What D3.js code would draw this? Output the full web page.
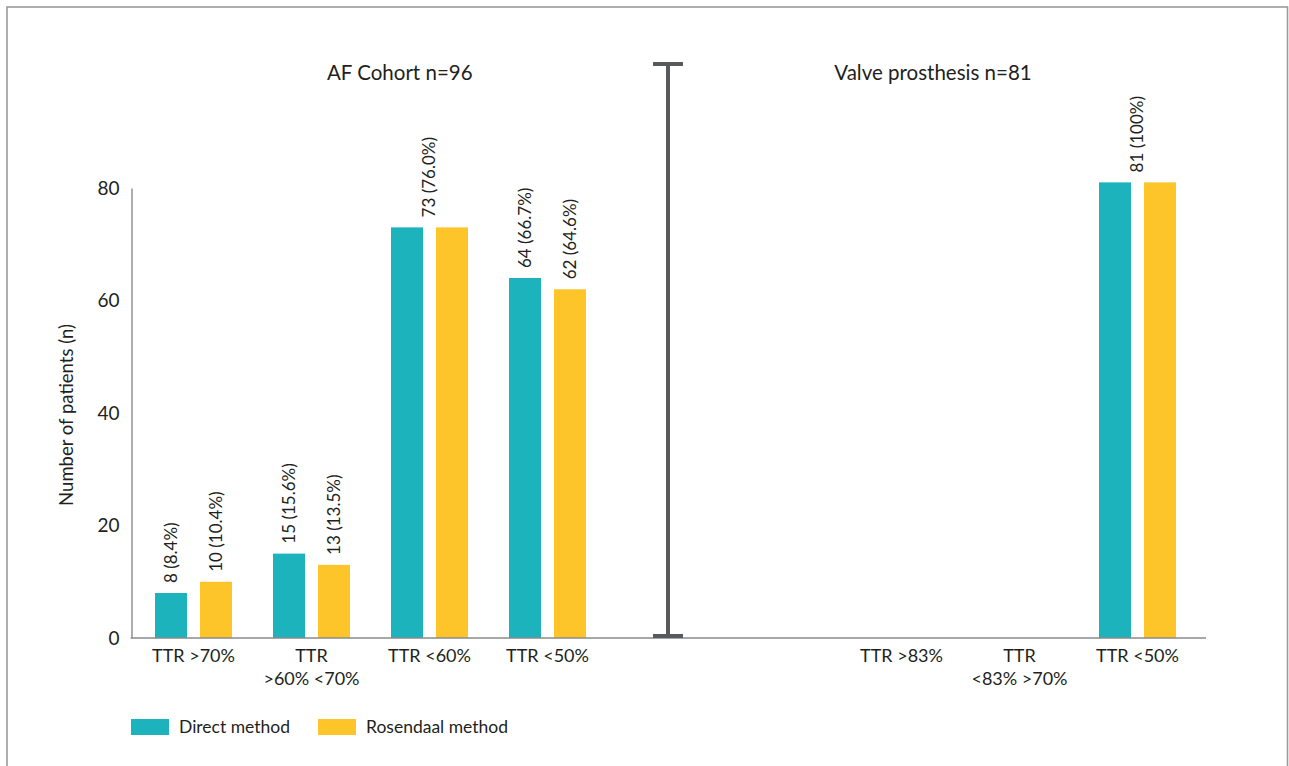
<!DOCTYPE html>
<html>
<head>
<meta charset="utf-8">
<script src="https://cdn.jsdelivr.net/npm/d3@7"></script>
<style>
  html, body { margin: 0; padding: 0; background: #fff; }
  svg { display: block; }
  text { font-family: Lato, "Noto Sans", sans-serif; fill: #231f20; }
</style>
</head>
<body>
<svg id="chart" width="1289" height="766"></svg>
<script>
// ---- data ----
const afCategories = [["TTR >70%"], ["TTR", ">60% <70%"], ["TTR <60%"], ["TTR <50%"]];
const afDirect = [8, 15, 73, 64];
const afRosendaal = [10, 13, 73, 62];
const afDirectPct = ["8.4%", "15.6%", "76.0%", "66.7%"];
const afRosendaalPct = ["10.4%", "13.5%", "76.0%", "64.6%"];

const valveCategories = [["TTR >83%"], ["TTR", "<83% >70%"], ["TTR <50%"]];
const valveDirect = [null, null, 81];
const valveRosendaal = [null, null, 81];
const valveDirectPct = [null, null, "100%"];
const valveRosendaalPct = [null, null, "100%"];

const yTicks = [0, 20, 40, 60, 80];
const panelTitles = ["AF Cohort n=96", "Valve prosthesis n=81"];
const seriesNames = ["Direct method", "Rosendaal method"];
const yAxisTitle = "Number of patients (n)";

// ---- style / layout ----
const colors = { direct: "#1db3bc", rosendaal: "#fec52b" };
const W = 1289, H = 766;
const axisX = 131.5, axisRight = 1206, baseY = 638, topY = 188;

const svg = d3.select("#chart");

// outer frame
svg.append("rect").attr("x", 7).attr("y", 7).attr("width", 1280.5).attr("height", H + 20)
  .attr("fill", "none").attr("stroke", "#9a9a9a").attr("stroke-width", 1.6);

// slots: 4 AF groups, separator, gap, 3 valve groups
const slots = afCategories.map((c, i) => "af" + i)
  .concat(["sep", "gap"])
  .concat(valveCategories.map((c, i) => "vp" + i));

const x = d3.scaleBand().domain(slots).range([134.5, 1196.5]);
const xSub = d3.scaleBand().domain(["direct", "rosendaal"])
  .range([x.bandwidth() / 2 - 38.5, x.bandwidth() / 2 + 38.5]).paddingInner(0.2889);
const y = d3.scaleLinear().domain([0, 80]).range([baseY, topY]);

// build records
const records = [];
const groups = [];
function addGroup(slot, dv, rv, dp, rp) {
  records.push({ slot, series: "direct", v: dv, pct: dp });
  records.push({ slot, series: "rosendaal", v: rv, pct: rp });
  groups.push({ slot, dv, rv, dp, rp });
}
afCategories.forEach((c, i) => addGroup("af" + i, afDirect[i], afRosendaal[i], afDirectPct[i], afRosendaalPct[i]));
valveCategories.forEach((c, i) => addGroup("vp" + i, valveDirect[i], valveRosendaal[i], valveDirectPct[i], valveRosendaalPct[i]));
const shown = records.filter(d => d.v != null);

// value labels: one per bar, or a single centred one when both series are equal
const labels = [];
groups.forEach(g => {
  if (g.dv == null && g.rv == null) return;
  if (g.dv === g.rv) {
    labels.push({ cx: x(g.slot) + x.bandwidth() / 2, v: g.dv, pct: g.dp });
  } else {
    labels.push({ cx: x(g.slot) + xSub("direct") + xSub.bandwidth() / 2, v: g.dv, pct: g.dp });
    labels.push({ cx: x(g.slot) + xSub("rosendaal") + xSub.bandwidth() / 2, v: g.rv, pct: g.rp });
  }
});

// bars
svg.append("g").selectAll("rect").data(shown).join("rect")
  .attr("x", d => x(d.slot) + xSub(d.series))
  .attr("width", xSub.bandwidth())
  .attr("y", d => y(d.v))
  .attr("height", d => y(0) - y(d.v))
  .attr("fill", d => colors[d.series]);

svg.append("g").selectAll("text").data(labels).join("text")
  .attr("transform", d => `translate(${d.cx},${y(d.v) - 10}) rotate(-90)`)
  .attr("dy", "0.35em")
  .attr("text-anchor", "start")
  .style("font-size", "17px")
  .text(d => `${d.v} (${d.pct})`);

// y axis
const yAxis = svg.append("g").attr("transform", `translate(${axisX},0)`)
  .call(d3.axisLeft(y).tickValues(yTicks).tickSize(0).tickPadding(12).tickFormat(d3.format("d")));
yAxis.select(".domain").attr("stroke", "#9a9a9a").attr("stroke-width", 1.6);
yAxis.selectAll("text").style("font-size", "19px").style("font-family", "Lato, sans-serif").attr("fill", "#231f20");

// baseline
svg.append("line").attr("x1", axisX - 0.8).attr("x2", axisRight).attr("y1", baseY).attr("y2", baseY)
  .attr("stroke", "#8a8a8a").attr("stroke-width", 1.6);

// x tick labels
const tickData = afCategories.map((c, i) => ({ slot: "af" + i, lines: c }))
  .concat(valveCategories.map((c, i) => ({ slot: "vp" + i, lines: c })));
const xl = svg.append("g").selectAll("text").data(tickData).join("text")
  .attr("x", d => x(d.slot) + x.bandwidth() / 2)
  .attr("y", baseY + 24)
  .attr("text-anchor", "middle")
  .style("font-size", "18px");
xl.selectAll("tspan").data(d => d.lines.map(l => ({ l, x: x(d.slot) + x.bandwidth() / 2 }))).join("tspan")
  .attr("x", d => d.x)
  .attr("dy", (d, i) => i === 0 ? 0 : 23)
  .text(d => d.l);

// separator I-bar
const sepX = x("sep") + x.bandwidth() / 2 + 2.5;
const sepG = svg.append("g").attr("stroke", "#58595b");
sepG.append("line").attr("x1", sepX).attr("x2", sepX).attr("y1", 64).attr("y2", baseY - 2).attr("stroke-width", 4);
sepG.append("line").attr("x1", sepX - 15).attr("x2", sepX + 15).attr("y1", 64).attr("y2", 64).attr("stroke-width", 4);
sepG.append("line").attr("x1", sepX - 15).attr("x2", sepX + 15).attr("y1", baseY - 2).attr("y2", baseY - 2).attr("stroke-width", 4);

// panel titles
svg.append("g").selectAll("text").data(panelTitles).join("text")
  .attr("x", (d, i) => i === 0 ? (axisX + sepX) / 2 : (sepX + axisRight) / 2 - 4)
  .attr("y", 79.5)
  .attr("text-anchor", "middle")
  .style("font-size", "20.5px")
  .text(d => d);

// y axis title
svg.append("text")
  .attr("transform", `translate(67,415) rotate(-90)`)
  .attr("dy", "0.35em")
  .attr("text-anchor", "middle")
  .style("font-size", "18.5px")
  .text(yAxisTitle);

// legend
const legX = [131, 318];
const leg = svg.append("g").selectAll("g").data(seriesNames).join("g")
  .attr("transform", (d, i) => `translate(${legX[i]},719)`);
leg.append("rect").attr("width", 38).attr("height", 16)
  .attr("fill", (d, i) => colors[i === 0 ? "direct" : "rosendaal"]);
leg.append("text").attr("x", 48).attr("y", 8).attr("dy", "0.35em")
  .style("font-size", "17.5px").text(d => d);
</script>
</body>
</html>
